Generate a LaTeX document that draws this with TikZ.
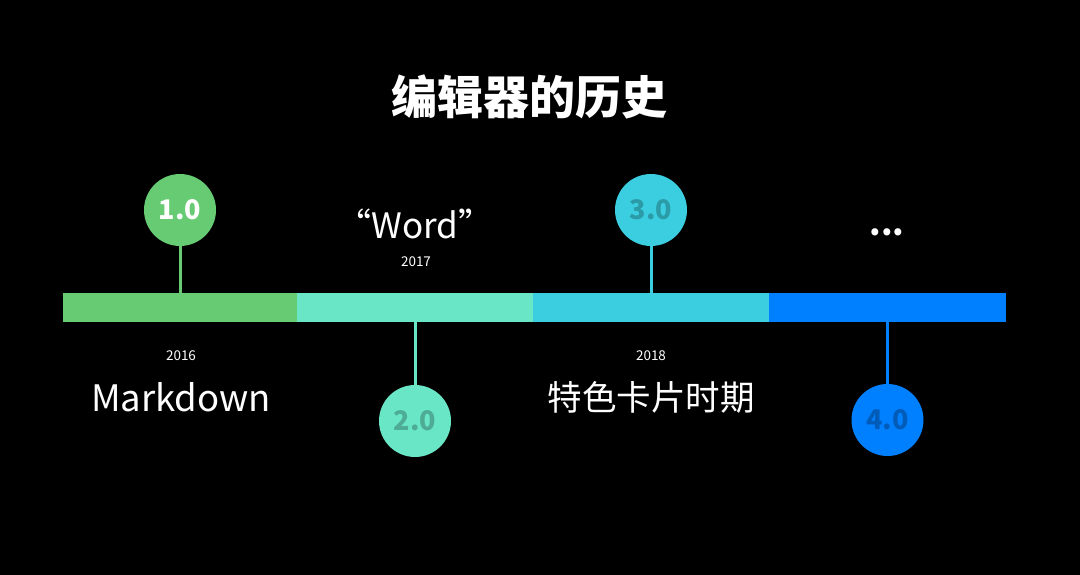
\documentclass[tikz,border=0pt]{standalone}
\usepackage{fontspec}
\setmainfont{Noto Sans CJK SC}
\usepackage{xcolor}

\definecolor{seggreen}{HTML}{66CB73}
\definecolor{segaqua}{HTML}{68E6C6}
\definecolor{segcyan}{HTML}{3ACEE0}
\definecolor{segblue}{HTML}{0080FF}

\tikzset{
  badge/.style={circle,minimum size=72pt,inner sep=0pt,font=\fontsize{27}{30}\selectfont\bfseries},
  stem/.style={line width=3pt},
  big/.style={text=white,font=\fontsize{35}{38}\selectfont},
  year/.style={text=white,font=\fontsize{13.5}{15}\selectfont}
}

\begin{document}
\begin{tikzpicture}[x=1pt,y=-1pt]
\fill[black] (0,0) rectangle (1080,575);
\node[text=white,font=\fontsize{46}{50}\selectfont\bfseries] (title) at (529,97) {编辑器的历史};
% timeline segments with their version badges
\foreach \name/\col/\txt/\xa/\xb/\cy/\sy/\ver in {%
  one/seggreen/white/63/297/210/293/1.0,
  two/segaqua/segaqua!75!black/297/533/421/322/2.0,
  three/segcyan/segcyan!75!black/533/769/210/293/3.0,
  four/segblue/segblue!72!black/769/1006/420/322/4.0}{
  \fill[\col] (\xa,293) rectangle (\xb,322);
  \node[badge,fill=\col,text=\txt] (\name) at ({(\xa+\xb)/2},\cy) {\ver};
  \coordinate (bar\name) at ({(\xa+\xb)/2},\sy);
  \draw[\col,stem] (\name) -- (bar\name);
}
\node[year] (y2016) at (181,356) {2016};
\node[big,font=\fontsize{36.5}{40}\selectfont] (markdown) at (181,397) {Markdown};
\node[big] (word) at (415,224) {“Word”};
\node[year] (y2017) at (416,262) {2017};
\node[year] (y2018) at (651,356) {2018};
\node[big,font=\fontsize{34.5}{38}\selectfont] (cards) at (651,397) {特色卡片时期};
\node[big,font=\fontsize{33}{36}\selectfont\bfseries] (more) at (887,232) {...};
\end{tikzpicture}
\end{document}
